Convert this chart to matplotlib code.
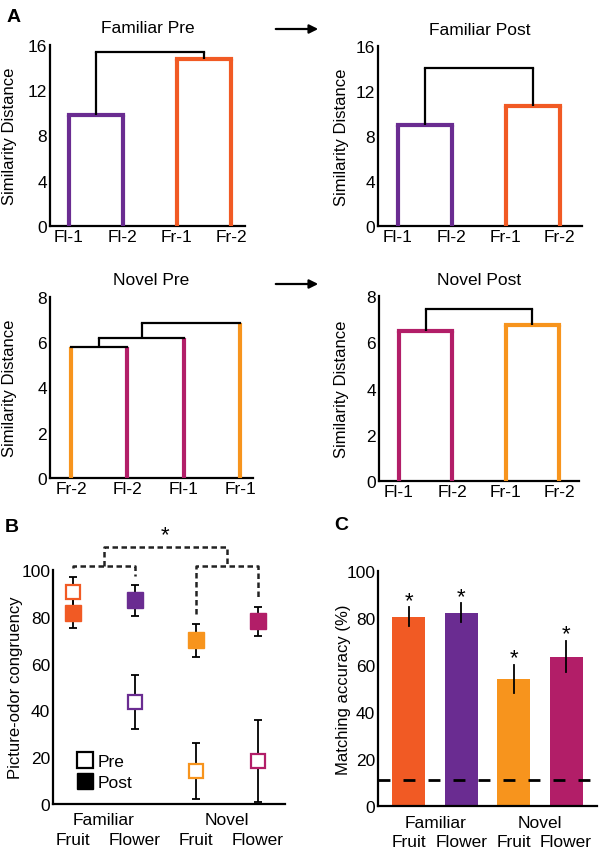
import matplotlib
matplotlib.use("Agg")
import matplotlib.pyplot as plt
from matplotlib.lines import Line2D

plt.rcParams['font.family'] = ['Liberation Sans', 'DejaVu Sans']

# colours
FR_FAM = '#F15A24'
FL_FAM = '#6A2C91'
FR_NOV = '#F7941D'
FL_NOV = '#B21E68'

# ---------------- panel A: dendrograms ----------------
fam_pre_leaves = ['Fl-1', 'Fl-2', 'Fr-1', 'Fr-2']
fam_pre_leaf_colors = [FL_FAM, FL_FAM, FR_FAM, FR_FAM]
fam_pre_merges = [(0, 1, 9.8), (2, 3, 14.8), (4, 5, 15.4)]
fam_pre_merge_colors = [FL_FAM, FR_FAM, 'black']

fam_post_leaves = ['Fl-1', 'Fl-2', 'Fr-1', 'Fr-2']
fam_post_leaf_colors = [FL_FAM, FL_FAM, FR_FAM, FR_FAM]
fam_post_merges = [(0, 1, 9.0), (2, 3, 10.7), (4, 5, 14.0)]
fam_post_merge_colors = [FL_FAM, FR_FAM, 'black']

nov_pre_leaves = ['Fr-2', 'Fl-2', 'Fl-1', 'Fr-1']
nov_pre_leaf_colors = [FR_NOV, FL_NOV, FL_NOV, FR_NOV]
nov_pre_merges = [(0, 1, 5.8), (4, 2, 6.2), (5, 3, 6.85)]
nov_pre_merge_colors = ['black', 'black', 'black']

nov_post_leaves = ['Fl-1', 'Fl-2', 'Fr-1', 'Fr-2']
nov_post_leaf_colors = [FL_NOV, FL_NOV, FR_NOV, FR_NOV]
nov_post_merges = [(0, 1, 6.5), (2, 3, 6.75), (4, 5, 7.45)]
nov_post_merge_colors = [FL_NOV, FR_NOV, 'black']

# ---------------- panel B: congruency ----------------
groups = ['Familiar', 'Novel']
kinds = ['Fruit', 'Flower', 'Fruit', 'Flower']
cond_colors = [FR_FAM, FL_FAM, FR_NOV, FL_NOV]
pre_vals = [90.5, 43.5, 14.0, 18.5]
pre_err = [6.3, 11.5, 12.0, 17.5]
post_vals = [81.5, 87.0, 70.0, 78.0]
post_err = [6.3, 6.6, 7.0, 6.0]

# ---------------- panel C: matching accuracy ----------------
acc_vals = [80.6, 82.3, 54.0, 63.6]
acc_err = [3.9, 4.0, 6.0, 6.7]
chance = 11.1


def style_axes(ax):
    for s in ['top', 'right']:
        ax.spines[s].set_visible(False)
    for s in ['left', 'bottom']:
        ax.spines[s].set_linewidth(1.6)
    ax.tick_params(length=0, labelsize=12.5, pad=2)


def dendro(ax, leaves, leaf_colors, merges, merge_colors, ymax, yticks, xlim, title, labx):
    xs = [i + 1 for i in range(len(leaves))]
    hs = [0.0] * len(leaves)
    cols = list(leaf_colors)
    for (a, b, h), c in zip(merges, merge_colors):
        for node in (a, b):
            vc = cols[node] if node < len(leaves) else c
            lw = 3 if vc != 'black' else 1.6
            ax.plot([xs[node], xs[node]], [hs[node], h], color=vc, lw=lw,
                    solid_capstyle='butt', clip_on=False, zorder=3)
        lw = 3 if c != 'black' else 1.6
        ax.plot([xs[a], xs[b]], [h, h], color=c, lw=lw,
                solid_capstyle='projecting', clip_on=False, zorder=3)
        xs.append((xs[a] + xs[b]) / 2)
        hs.append(h)
        cols.append(c)
    ax.set_ylim(0, ymax)
    ax.set_xlim(*xlim)
    ax.set_yticks(yticks)
    ax.set_xticks(range(1, len(leaves) + 1))
    ax.set_xticklabels(leaves)
    ax.set_ylabel('Similarity Distance', fontsize=12)
    ax.yaxis.set_label_coords(labx, 0.5)
    ax.set_title(title, fontsize=12.5, pad=9)
    style_axes(ax)


fig = plt.figure(figsize=(5.99, 8.53), dpi=100)

ax1 = fig.add_axes([0.0835, 0.7339, 0.3255, 0.2122])
dendro(ax1, fam_pre_leaves, fam_pre_leaf_colors, fam_pre_merges, fam_pre_merge_colors,
       16, [0, 4, 8, 12, 16], (0.65, 4.26), 'Familiar Pre', -0.169)
ax2 = fig.add_axes([0.631, 0.7339, 0.3406, 0.2110])
dendro(ax2, fam_post_leaves, fam_post_leaf_colors, fam_post_merges, fam_post_merge_colors,
       16, [0, 4, 8, 12, 16], (0.63, 4.41), 'Familiar Post', -0.142)
ax3 = fig.add_axes([0.0835, 0.4385, 0.339, 0.2122])
dendro(ax3, nov_pre_leaves, nov_pre_leaf_colors, nov_pre_merges, nov_pre_merge_colors,
       8, [0, 2, 4, 6, 8], (0.625, 4.23), 'Novel Pre', -0.163)
ax4 = fig.add_axes([0.6327, 0.4349, 0.334, 0.2169])
dendro(ax4, nov_post_leaves, nov_post_leaf_colors, nov_post_merges, nov_post_merge_colors,
       8, [0, 2, 4, 6, 8], (0.625, 4.375), 'Novel Post', -0.15)

# arrows between pre and post
for yy in [1 - 30 / 853, 1 - 285 / 853]:
    fig.add_artist(matplotlib.patches.FancyArrowPatch(
        (273 / 599, yy), (321 / 599, yy), transform=fig.transFigure,
        arrowstyle='-|>', mutation_scale=13, lw=1.6, color='black'))

fig.text(7 / 599, 1 - 18 / 853, 'A', fontsize=14, fontweight='bold', ha='left', va='center')
fig.text(5 / 599, 1 - 528 / 853, 'B', fontsize=14, fontweight='bold', ha='left', va='center')
fig.text(334 / 599, 1 - 526 / 853, 'C', fontsize=14, fontweight='bold', ha='left', va='center')

# ---------------- B ----------------
axb = fig.add_axes([0.0885, 0.0563, 0.387, 0.2743])
pos = [1, 2, 3, 4]
for i in range(4):
    axb.errorbar(pos[i], pre_vals[i], yerr=pre_err[i], fmt='none', ecolor='black',
                 elinewidth=1.3, capsize=3, capthick=1.3, zorder=2, clip_on=False)
    axb.errorbar(pos[i], post_vals[i], yerr=post_err[i], fmt='none', ecolor='black',
                 elinewidth=1.3, capsize=3, capthick=1.3, zorder=2, clip_on=False)
    axb.plot(pos[i], post_vals[i], marker='s', ms=11, color=cond_colors[i],
             mec=cond_colors[i], ls='none', zorder=3, clip_on=False)
    axb.plot(pos[i], pre_vals[i], marker='s', ms=10, mfc='white', mec=cond_colors[i],
             mew=1.6, ls='none', zorder=4, clip_on=False)

# significance brackets
tops = [max(pre_vals[i] + pre_err[i], post_vals[i] + post_err[i]) + 4 for i in range(4)]
brk_y = 101.7
top_y = 109.8
dash_kw = dict(color='#222222', lw=1.8, ls=(0, (2.2, 1.4)), clip_on=False)
for a, b in [(0, 1), (2, 3)]:
    axb.plot([pos[a], pos[a], pos[b], pos[b]], [tops[a], brk_y, brk_y, tops[b]], **dash_kw)
mid1 = (pos[0] + pos[1]) / 2
mid2 = (pos[2] + pos[3]) / 2
axb.plot([mid1, mid1, mid2, mid2], [brk_y, top_y, top_y, brk_y], **dash_kw)
axb.text((mid1 + mid2) / 2, top_y + 1, '*', fontsize=16, ha='center', va='bottom')

axb.set_ylim(0, 100)
axb.set_xlim(0.676, 4.44)
axb.set_yticks([0, 20, 40, 60, 80, 100])
axb.set_xticks(pos)
axb.set_xticklabels(kinds)
axb.set_ylabel('Picture-odor congruency', fontsize=12)
axb.yaxis.set_label_coords(-0.129, 0.5)
style_axes(axb)
axb.tick_params(axis='x', pad=20)
for g, gi in zip(groups, [0, 2]):
    axb.text((pos[gi] + pos[gi + 1]) / 2, -0.066, g, transform=axb.get_xaxis_transform(),
             fontsize=12.5, ha='center', va='center')

leg_handles = [Line2D([], [], marker='s', ms=11, mfc='white', mec='black', mew=1.6, ls='none'),
               Line2D([], [], marker='s', ms=11, color='black', ls='none')]
axb.legend(leg_handles, ['Pre', 'Post'], loc='lower left', bbox_to_anchor=(0.065, 0.03),
           frameon=False, fontsize=12.5, handletextpad=0.1, labelspacing=0.35,
           handlelength=1.2, borderaxespad=0)

# ---------------- C ----------------
axc = fig.add_axes([0.631, 0.0539, 0.3656, 0.2755])
cpos = [0, 1, 2, 3]
axc.bar(cpos, acc_vals, width=0.63, color=cond_colors, zorder=2)
for i in range(4):
    axc.plot([cpos[i], cpos[i]], [acc_vals[i] - acc_err[i], acc_vals[i] + acc_err[i]],
             color='black', lw=1.3, zorder=3)
    axc.text(cpos[i], acc_vals[i] + acc_err[i] - 1.5, '*', fontsize=16, ha='center', va='bottom')
axc.axhline(chance, color='black', lw=2, dashes=(4.3, 4.7), zorder=4)
axc.set_ylim(0, 100)
axc.set_xlim(-0.59, 3.59)
axc.set_yticks([0, 20, 40, 60, 80, 100])
axc.set_xticks(cpos)
axc.set_xticklabels(kinds)
axc.set_ylabel('Matching accuracy (%)', fontsize=12)
axc.yaxis.set_label_coords(-0.123, 0.5)
style_axes(axc)
axc.tick_params(axis='x', pad=20)
for g, gi in zip(groups, [0, 2]):
    axc.text((cpos[gi] + cpos[gi + 1]) / 2, -0.068, g, transform=axc.get_xaxis_transform(),
             fontsize=12.5, ha='center', va='center')

fig.savefig('out.png', dpi=100)
